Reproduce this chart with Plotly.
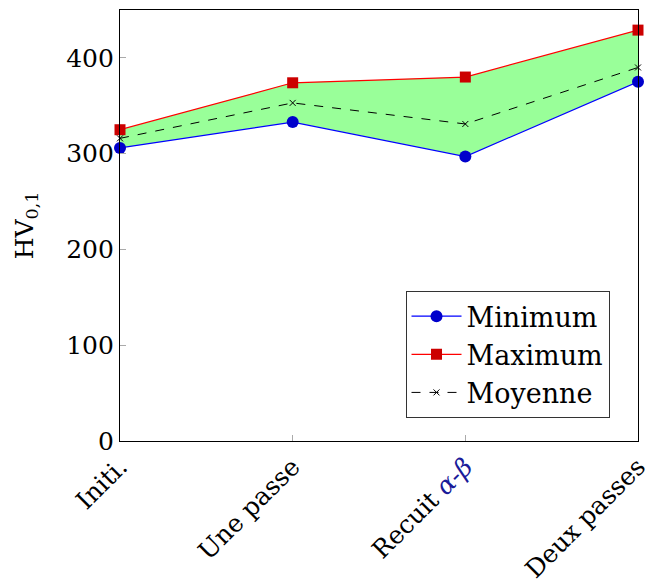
import plotly.graph_objects as go

categories = ["Initi.", "Une passe", "Recuit <span style='color:#1a1a99'><i>α</i>-<i>β</i></span>", "Deux passes"]
minimum = [306, 333, 297, 375]
maximum = [325, 374, 380, 429]
moyenne = [316, 353, 331, 390]
xpos = list(range(len(categories)))
yticks = [0, 100, 200, 300, 400]

FONT = "DejaVu Serif"

fig = go.Figure()
fig.add_trace(go.Scatter(x=xpos, y=minimum, mode="lines", showlegend=False,
                         line=dict(width=0), hoverinfo="skip"))
fig.add_trace(go.Scatter(x=xpos, y=maximum, mode="lines", showlegend=False,
                         fill="tonexty", fillcolor="#99ff99",
                         line=dict(width=0), hoverinfo="skip"))
fig.add_trace(go.Scatter(x=xpos, y=minimum, name="Minimum", mode="lines+markers",
                         cliponaxis=False,
                         line=dict(color="#0000ff", width=1.2),
                         marker=dict(symbol="circle", size=12, color="#0000cc")))
fig.add_trace(go.Scatter(x=xpos, y=maximum, name="Maximum", mode="lines+markers",
                         cliponaxis=False,
                         line=dict(color="#ff0000", width=1.2),
                         marker=dict(symbol="square", size=11, color="#cc0000")))
fig.add_trace(go.Scatter(x=xpos, y=moyenne, name="Moyenne", mode="lines+markers",
                         cliponaxis=False,
                         line=dict(color="black", width=1, dash="dash"),
                         marker=dict(symbol="x-thin", size=6, color="black",
                                     line=dict(color="black", width=1))))

fig.update_layout(
    width=648, height=580,
    margin=dict(l=120, r=10, t=10, b=139),
    plot_bgcolor="white", paper_bgcolor="white",
    font=dict(family=FONT, size=25, color="black"),
    showlegend=True,
    legend=dict(x=0.945, y=0.053, xanchor="right", yanchor="bottom",
                bordercolor="#333333", borderwidth=1, bgcolor="white",
                font=dict(size=27), traceorder="normal", tracegroupgap=0,
                itemwidth=50),
)
fig.update_xaxes(range=[0, 3], tickvals=xpos, ticktext=categories, tickangle=-45,
                 ticklabeloverflow="allow", automargin=False,
                 showgrid=False, zeroline=False, showline=True, linecolor="black",
                 linewidth=1.2, mirror=True, ticks="inside", ticklen=6,
                 tickcolor="#aaaaaa", tickfont=dict(size=25))
fig.update_yaxes(range=[0, 450], tickvals=yticks, showgrid=False, zeroline=False,
                 automargin=False,
                 showline=True, linecolor="black", linewidth=1.2, mirror=True,
                 ticks="inside", ticklen=6, tickcolor="#aaaaaa",
                 title=dict(text="HV<sub>0,1</sub>", standoff=25, font=dict(size=25)))
fig.write_html("out.html", config={"displayModeBar": False},
               post_script="document.body.style.margin='0';")
